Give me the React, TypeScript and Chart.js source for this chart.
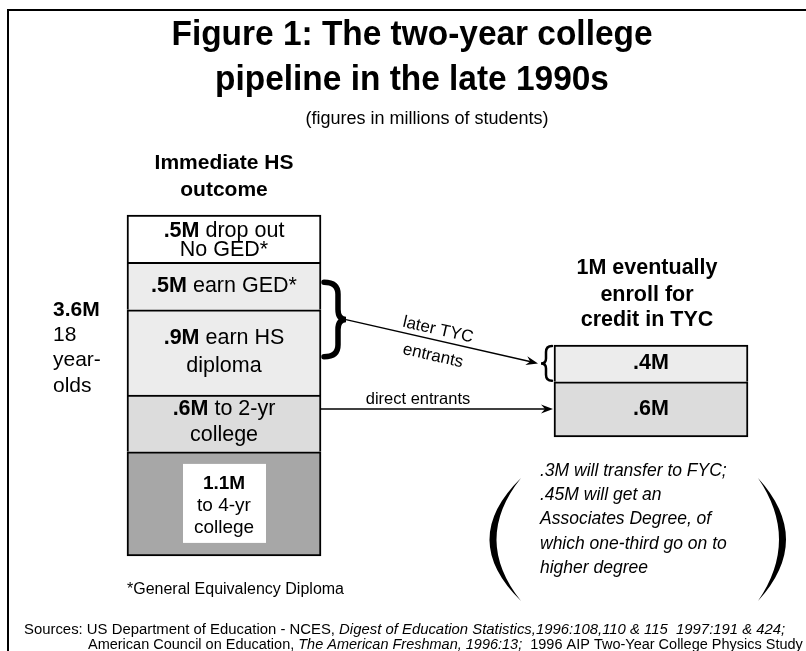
import React, { useEffect, useRef } from "react";
import { Chart, registerables } from "chart.js";

Chart.register(...registerables);

// ---- data ----
const hsCategories = ["to 4-yr college", "to 2-yr college", "earn HS diploma", "earn GED*", "drop out No GED*"];
const hsValues = [1.1, 0.6, 0.9, 0.5, 0.5];
const hsColors = ["#a7a7a7", "#dcdcdc", "#ececec", "#ececec", "#ffffff"];
const tycCategories = ["direct entrants", "later TYC entrants"];
const tycValues = [0.6, 0.4];
const tycColors = ["#dcdcdc", "#ececec"];
const cohortTotal = 3.6;
const tycTotal = 1;

const FAMILY = '"Liberation Sans", Arial, sans-serif';
const SX = 1;

type Part = { t: string; b?: boolean; i?: boolean };

function fmtM(v: number): string {
  const s = String(v);
  return (s.startsWith("0") ? s.slice(1) : s) + "M";
}

function font(p: Part, size: number) {
  return `${p.i ? "italic " : ""}${p.b ? "bold " : ""}${size}px ${FAMILY}`;
}

function drawRich(ctx: CanvasRenderingContext2D, parts: Part[], x: number, y: number, size: number, align: "left" | "center" = "center", sx = SX) {
  let total = 0;
  const ws: number[] = [];
  for (const p of parts) {
    ctx.font = font(p, size);
    const w = ctx.measureText(p.t).width;
    ws.push(w);
    total += w * sx;
  }
  let cx = align === "center" ? x - total / 2 : x;
  ctx.textBaseline = "middle";
  ctx.textAlign = "left";
  parts.forEach((p, k) => {
    ctx.save();
    ctx.translate(cx, y);
    ctx.scale(sx, 1);
    ctx.font = font(p, size);
    ctx.fillText(p.t, 0, 0);
    ctx.restore();
    cx += ws[k] * sx;
  });
}

function arrowHead(ctx: CanvasRenderingContext2D, x: number, y: number, ang: number) {
  ctx.save();
  ctx.translate(x, y);
  ctx.rotate(ang);
  ctx.beginPath();
  ctx.moveTo(0, 0);
  ctx.lineTo(-12, -4.5);
  ctx.lineTo(-8, 0);
  ctx.lineTo(-12, 4.5);
  ctx.closePath();
  ctx.fill();
  ctx.restore();
}

const overlay = {
  id: "overlay",
  beforeDraw(chart: any) {
    const ctx = chart.ctx as CanvasRenderingContext2D;
    ctx.save();
    ctx.fillStyle = "#fff";
    ctx.fillRect(0, 0, chart.width, chart.height);
    ctx.restore();
  },
  afterDatasetsDraw(chart: any) {
    const ctx = chart.ctx as CanvasRenderingContext2D;
    ctx.save();
    ctx.fillStyle = "#000";
    ctx.strokeStyle = "#000";

    // frame
    ctx.lineWidth = 2;
    ctx.beginPath();
    ctx.moveTo(8, chart.height);
    ctx.lineTo(8, 10);
    ctx.lineTo(chart.width, 10);
    ctx.stroke();

    // title
    drawRich(ctx, [{ t: "Figure 1: The two-year college", b: true }], 412, 35, 35, "center", 0.955);
    drawRich(ctx, [{ t: "pipeline in the late 1990s", b: true }], 412, 80, 35, "center", 0.955);
    drawRich(ctx, [{ t: "(figures in millions of students)" }], 427, 119, 18);

    const seg = (ds: number) => chart.getDatasetMeta(ds).data[0] as any;
    const hs = hsValues.map((_, k) => seg(k));
    const ty = tycValues.map((_, k) => seg(hsValues.length + k));
    const cx = hs[0].x;
    const mid = (e: any) => (e.y + e.base) / 2;

    drawRich(ctx, [{ t: "Immediate HS", b: true }], cx, 163, 21);
    drawRich(ctx, [{ t: "outcome", b: true }], cx, 190, 21);

    const IS = 21.5;
    // drop out
    const d = mid(hs[4]);
    drawRich(ctx, [{ t: fmtM(hsValues[4]), b: true }, { t: " drop out" }], cx, d - 8, IS);
    drawRich(ctx, [{ t: "No GED*" }], cx, d + 11, IS);
    // GED
    drawRich(ctx, [{ t: fmtM(hsValues[3]), b: true }, { t: " earn GED*" }], cx, mid(hs[3]), IS);
    // HS diploma
    const h = mid(hs[2]);
    drawRich(ctx, [{ t: fmtM(hsValues[2]), b: true }, { t: " earn HS" }], cx, h - 14, IS);
    drawRich(ctx, [{ t: "diploma" }], cx, h + 14, IS);
    // 2-yr
    const t2 = mid(hs[1]);
    drawRich(ctx, [{ t: fmtM(hsValues[1]), b: true }, { t: " to 2-yr" }], cx, t2 - 14, IS);
    drawRich(ctx, [{ t: "college" }], cx, t2 + 12, IS);
    // 4-yr white box
    const f = mid(hs[0]);
    ctx.fillStyle = "#fff";
    ctx.fillRect(cx - 41, f - 40, 83, 79);
    ctx.fillStyle = "#000";
    drawRich(ctx, [{ t: fmtM(hsValues[0]), b: true }], cx, f - 20, 19);
    drawRich(ctx, [{ t: "to 4-yr" }], cx, f + 2, 19);
    drawRich(ctx, [{ t: "college" }], cx, f + 24, 19);

    // left cohort label
    drawRich(ctx, [{ t: fmtM(cohortTotal), b: true }], 53, 310, 21, "left");
    drawRich(ctx, [{ t: "18" }], 53, 335, 21, "left");
    drawRich(ctx, [{ t: "year-" }], 53, 360, 21, "left");
    drawRich(ctx, [{ t: "olds" }], 53, 386, 21, "left");

    // right heading
    const rx = ty[0].x;
    drawRich(ctx, [{ t: `${tycTotal}M eventually`, b: true }], rx - 4, 268, 21.5);
    drawRich(ctx, [{ t: "enroll for", b: true }], rx - 4, 295, 21.5);
    drawRich(ctx, [{ t: "credit in TYC", b: true }], rx - 4, 320, 21.5);
    drawRich(ctx, [{ t: fmtM(tycValues[1]), b: true }], rx, mid(ty[1]), 21.5);
    drawRich(ctx, [{ t: fmtM(tycValues[0]), b: true }], rx, mid(ty[0]), 21.5);

    // big brace next to GED + HS
    const bx = hs[2].x + hs[2].width / 2 + 3;
    const top = hs[3].y + 20;
    const bot = hs[2].y + 47;
    const tip = (top + bot) / 2;
    ctx.lineWidth = 5.5;
    ctx.lineCap = "round";
    ctx.beginPath();
    ctx.moveTo(bx, top);
    ctx.quadraticCurveTo(bx + 14, top, bx + 14, top + 12);
    ctx.lineTo(bx + 14, tip - 10);
    ctx.quadraticCurveTo(bx + 14, tip, bx + 22, tip);
    ctx.quadraticCurveTo(bx + 14, tip, bx + 14, tip + 10);
    ctx.lineTo(bx + 14, bot - 12);
    ctx.quadraticCurveTo(bx + 14, bot, bx, bot);
    ctx.stroke();

    // small brace before right bar top segment
    const sbx = ty[1].x - ty[1].width / 2 - 8;
    const st = ty[1].y + 1;
    const sb = ty[1].base - 1;
    const sm = (st + sb) / 2;
    ctx.lineWidth = 2.5;
    ctx.beginPath();
    ctx.moveTo(sbx + 6, st);
    ctx.quadraticCurveTo(sbx, st, sbx, st + 6);
    ctx.lineTo(sbx, sm - 5);
    ctx.quadraticCurveTo(sbx, sm, sbx - 5, sm);
    ctx.quadraticCurveTo(sbx, sm, sbx, sm + 5);
    ctx.lineTo(sbx, sb - 6);
    ctx.quadraticCurveTo(sbx, sb, sbx + 6, sb);
    ctx.stroke();

    // later entrants arrow
    ctx.lineCap = "butt";
    ctx.lineWidth = 1.3;
    const x1 = bx + 22, y1 = tip, x2 = sbx - 8, y2 = sm;
    ctx.beginPath();
    ctx.moveTo(x1, y1);
    ctx.lineTo(x2 - 6, y2 - 1.4);
    ctx.stroke();
    const ang = Math.atan2(y2 - y1, x2 - x1);
    arrowHead(ctx, x2, y2, ang);
    ctx.save();
    ctx.translate(438, 330);
    ctx.rotate(ang);
    drawRich(ctx, [{ t: "later TYC" }], 0, 0, 17);
    ctx.restore();
    ctx.save();
    ctx.translate(433, 356);
    ctx.rotate(ang);
    drawRich(ctx, [{ t: "entrants" }], 0, 0, 17);
    ctx.restore();

    // direct entrants arrow
    const dy = 409;
    const dx1 = hs[1].x + hs[1].width / 2;
    const dx2 = ty[0].x - ty[0].width / 2 - 1;
    ctx.beginPath();
    ctx.moveTo(dx1, dy);
    ctx.lineTo(dx2 - 6, dy);
    ctx.stroke();
    arrowHead(ctx, dx2, dy, 0);
    drawRich(ctx, [{ t: "direct entrants" }], 418, 399, 16.5);

    // parentheses note
    const py1 = 478, py2 = 601, pm = (py1 + py2) / 2;
    ctx.beginPath();
    ctx.moveTo(521, py1);
    ctx.quadraticCurveTo(458, pm, 521, py2);
    ctx.quadraticCurveTo(472, pm, 521, py1);
    ctx.fill();
    ctx.beginPath();
    ctx.moveTo(758, py1);
    ctx.quadraticCurveTo(814, pm, 758, py2);
    ctx.quadraticCurveTo(800, pm, 758, py1);
    ctx.fill();
    const note = [".3M will transfer to FYC;", ".45M will get an", "Associates Degree, of", "which one-third go on to", "higher degree"];
    note.forEach((l, k) => drawRich(ctx, [{ t: l, i: true }], 540, 471 + k * 24.3, 17.5, "left"));

    // footnote + sources
    drawRich(ctx, [{ t: "*General Equivalency Diploma" }], 127, 590, 16, "left");
    drawRich(ctx, [
      { t: "Sources: US Department of Education - NCES, " },
      { t: "Digest of Education Statistics,1996:108,110 & 115  1997:191 & 424;", i: true },
    ], 24, 630, 15.5, "left", 0.96);
    drawRich(ctx, [
      { t: "American Council on Education, " },
      { t: "The American Freshman, 1996:13;", i: true },
      { t: "  1996 AIP Two-Year College Physics Study" },
    ], 88, 645, 15.5, "left", 0.935);

    ctx.restore();
  },
};

export default function App() {
  const ref = useRef<HTMLCanvasElement>(null);
  useEffect(() => {
    if (!ref.current) return;
    const datasets: any[] = [];
    hsValues.forEach((v, k) => {
      datasets.push({
        label: hsCategories[k],
        data: [{ x: 0, y: v }],
        backgroundColor: hsColors[k],
        borderColor: "#000",
        borderWidth: 2,
        borderSkipped: k === 0 ? false : "start",
        barThickness: 194,
        grouped: false,
        stack: "hs",
        yAxisID: "y",
      });
    });
    tycValues.forEach((v, k) => {
      datasets.push({
        label: tycCategories[k],
        data: [{ x: 1, y: v }],
        backgroundColor: tycColors[k],
        borderColor: "#000",
        borderWidth: 2,
        borderSkipped: k === 0 ? false : "start",
        barThickness: 194,
        grouped: false,
        stack: "tyc",
        yAxisID: "y2",
      });
    });
    const chart = new Chart(ref.current, {
      type: "bar",
      data: { datasets },
      options: {
        animation: false,
        responsive: false,
        maintainAspectRatio: false,
        layout: { padding: 0 },
        plugins: { legend: { display: false }, tooltip: { enabled: false }, title: { display: false } },
        scales: {
          x: { type: "linear", display: false, min: -0.5246, max: 1.363, offset: false },
          y: { display: false, stacked: true, min: -1.003, max: 5.87 },
          y2: { display: false, stacked: true, min: -2.326, max: 4.75 },
        },
      },
      plugins: [overlay],
    });
    return () => chart.destroy();
  }, []);
  return (
    <div style={{ position: "fixed", left: 0, top: 0, width: 806, height: 651, background: "#fff" }}>
      <canvas ref={ref} width={806} height={651} />
    </div>
  );
}
